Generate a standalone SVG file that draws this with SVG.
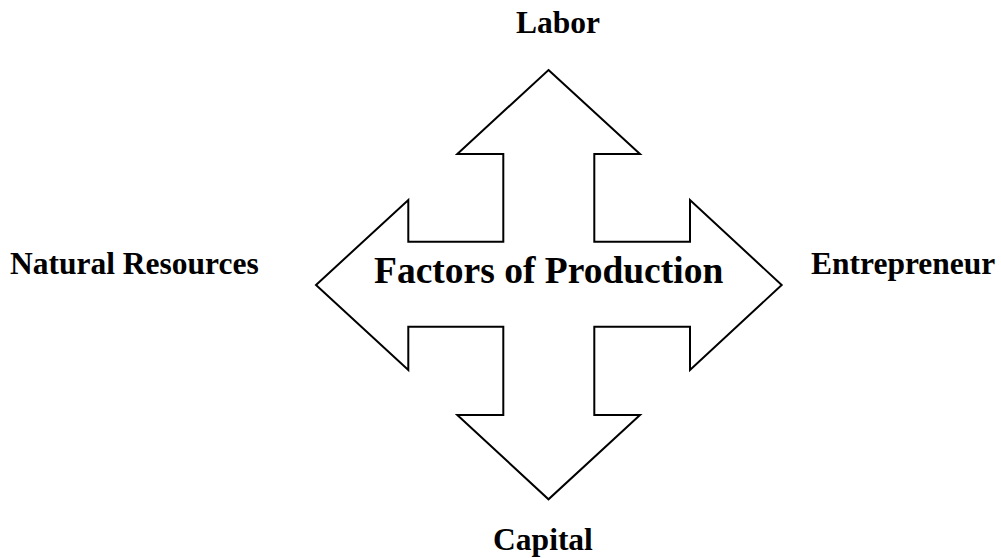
<svg xmlns="http://www.w3.org/2000/svg" width="1001" height="558" viewBox="0 0 1001 558">
<style>
.lbl{font-family:"Liberation Serif","Times New Roman",serif;font-weight:bold;font-size:31.5px;fill:#000}
.ctr{font-family:"Liberation Serif","Times New Roman",serif;font-weight:bold;font-size:37.5px;fill:#000}
.shape{fill:#fff;stroke:#000;stroke-width:2;stroke-linejoin:miter}
</style>
<rect width="1001" height="558" fill="#fff"/>
<g id="cross">
<polygon class="shape" points="548.5,70 640,154 594.3,154 594.3,241.7 690,241.7 690,200 781.7,285 690,370 690,326.7 594.3,326.7 594.3,415 640,415 548.5,499.3 457.3,415 503.3,415 503.3,326.7 408.3,326.7 408.3,370 316,285 408.3,200 408.3,241.7 503.3,241.7 503.3,154 457.3,154"/>
<text class="ctr" x="374" y="283">Factors of Production</text>
</g>
<g id="labor"><text class="lbl" x="558" y="33" text-anchor="middle">Labor</text></g>
<g id="capital"><text class="lbl" x="543" y="550" text-anchor="middle">Capital</text></g>
<g id="natural-resources"><text class="lbl" x="10" y="274">Natural Resources</text></g>
<g id="entrepreneur"><text class="lbl" x="811" y="274">Entrepreneur</text></g>
<g id="connectors"></g>
</svg>
